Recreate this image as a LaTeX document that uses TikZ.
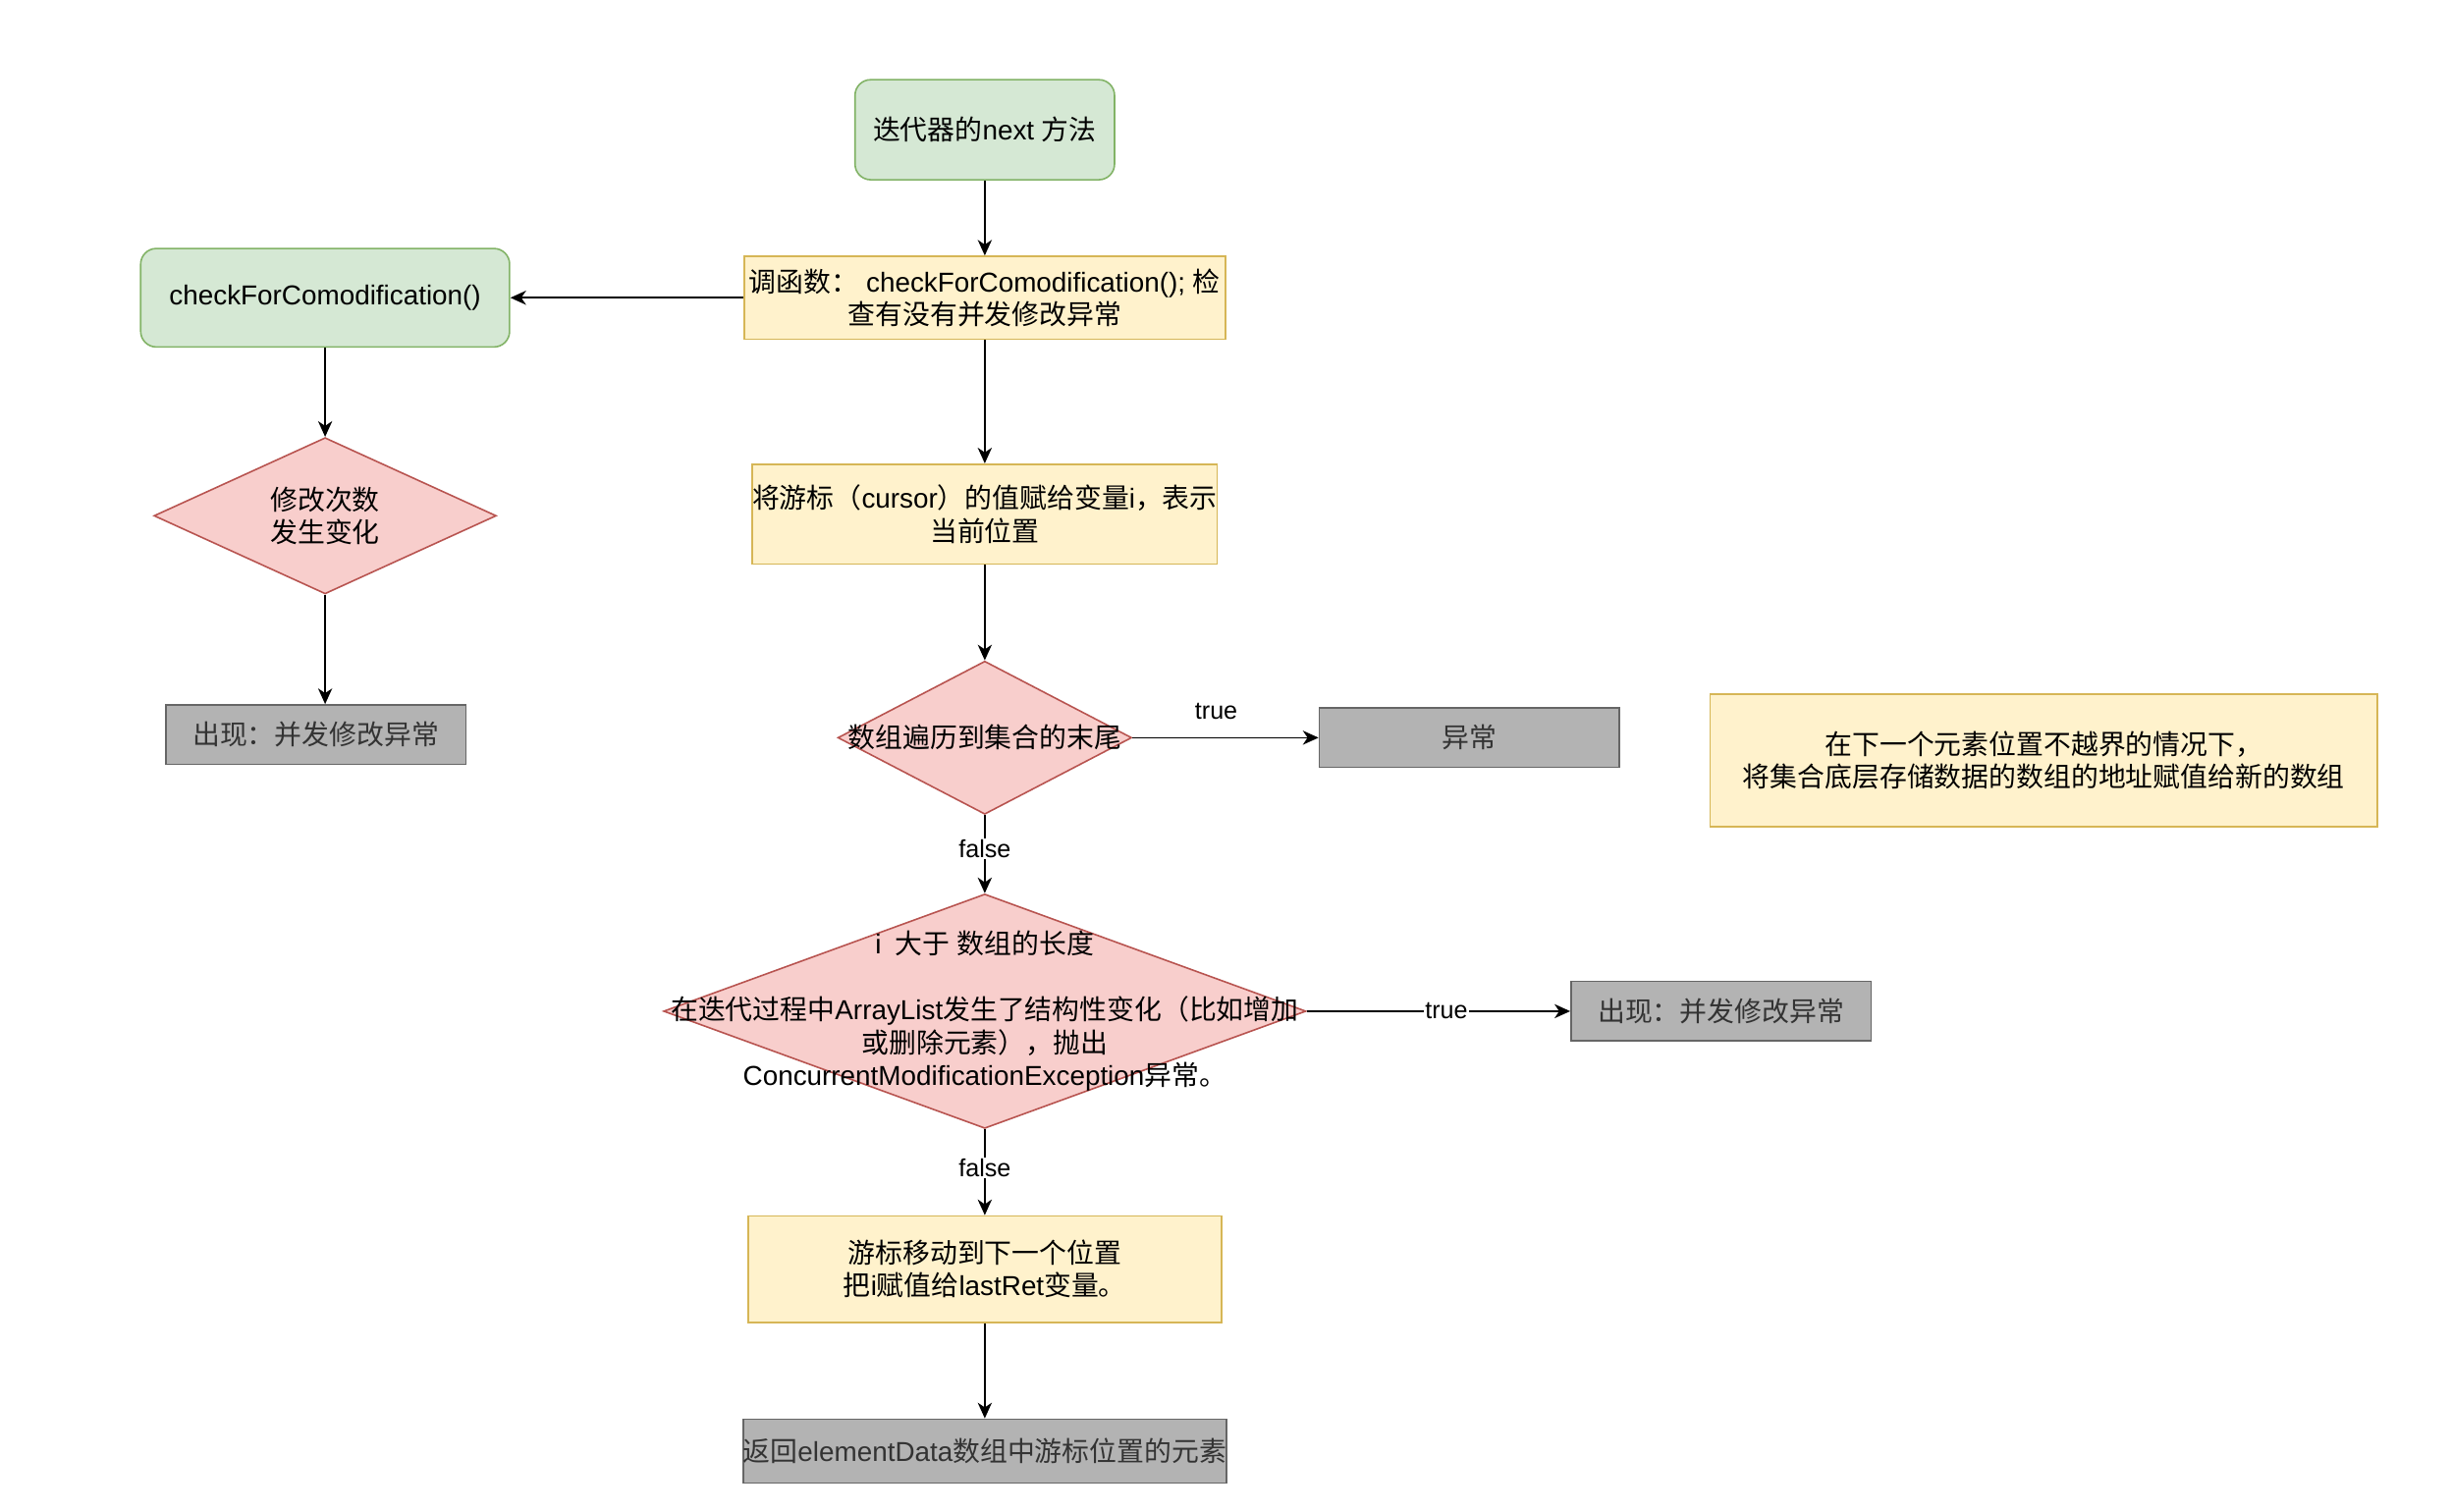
\documentclass[tikz,border=0pt]{standalone}
\usepackage{fontspec}
\setmainfont{Liberation Sans}
\newfontfamily\cjk{Noto Sans CJK SC}
\usetikzlibrary{shapes.geometric,arrows.meta}
\newcommand\zh[1]{{\cjk #1}}
\definecolor{gfill}{HTML}{D5E8D4}
\definecolor{gline}{HTML}{82B366}
\definecolor{yfill}{HTML}{FFF2CC}
\definecolor{yline}{HTML}{D6B656}
\definecolor{rfill}{HTML}{F8CECC}
\definecolor{rline}{HTML}{B85450}
\definecolor{xfill}{HTML}{B3B3B3}
\definecolor{xline}{HTML}{666666}
\definecolor{xtext}{HTML}{333333}
\begin{document}
\begin{tikzpicture}[x=1pt,y=-1pt,
  base/.style={line width=1pt, align=center, inner sep=0pt,
    font=\fontsize{17.5}{21}\selectfont},
  gbox/.style={base, draw=gline, fill=gfill, rounded corners=10pt},
  ybox/.style={base, draw=yline, fill=yfill},
  xbox/.style={base, draw=xline, fill=xfill, text=xtext},
  rdia/.style={base, diamond, draw=rline, fill=rfill},
  txt/.style={base},
  lbl/.style={inner sep=1pt, font=\fontsize{15.8}{19}\selectfont},
  arr/.style={-{Stealth[length=10pt,width=9pt,inset=3pt]}, line width=1pt}]
\fill[white] (0,0) rectangle (1568,967);
\useasboundingbox (0,0) rectangle (1568,967);

\node[gbox, minimum width=166pt, minimum height=64pt] (next) at (630,83)
  {\zh{迭代器的}next \zh{方法}};
\node[ybox, minimum width=308pt, minimum height=53pt] (check) at (630,190.5)
  {\zh{调函数：} checkForComodification(); \zh{检}\\\zh{查有没有并发修改异常}};
\node[gbox, minimum width=236pt, minimum height=63pt] (cfc) at (208,190.5)
  {checkForComodification()};
\node[rdia, minimum width=219pt, minimum height=100pt] (mod) at (208,330) {};
\node[txt] at (mod) {\zh{修改次数}\\\zh{发生变化}};
\node[xbox, minimum width=192pt, minimum height=38pt] (exl) at (202,470)
  {\zh{出现：并发修改异常}};

\node[ybox, minimum width=297pt, minimum height=64pt] (cur) at (630,329)
  {\zh{将游标（}cursor\zh{）的值赋给变量}i\zh{，表示}\\\zh{当前位置}};
\node[rdia, minimum width=188pt, minimum height=98pt] (d1) at (630,472) {};
\node[txt] at (d1) {\zh{数组遍历到集合的末尾}};
\node[xbox, minimum width=192pt, minimum height=38pt] (exc) at (940,472)
  {\zh{异常}};

\node[ybox, minimum width=427pt, minimum height=85pt] (note) at (1307.5,486.5)
  {\zh{在下一个元素位置不越界的情况下，}\\\zh{将集合底层存储数据的数组的地址赋值给新的数组}};

\node[rdia, minimum width=411pt, minimum height=150pt] (d2) at (630,647) {};
\node[txt] at (d2) {i\enspace\zh{大于} \zh{数组的长度}\\[21pt]
  \zh{在迭代过程中}ArrayList\zh{发生了结构性变化（比如增加}\\
  \zh{或删除元素），抛出}\\
  ConcurrentModificationException\zh{异常。}};
\node[xbox, minimum width=192pt, minimum height=38pt] (exr) at (1101,647)
  {\zh{出现：并发修改异常}};

\node[ybox, minimum width=303pt, minimum height=68pt] (move) at (630,812)
  {\zh{游标移动到下一个位置}\\\zh{把}i\zh{赋值给}lastRet\zh{变量。}};
\node[xbox, minimum width=309pt, minimum height=41pt] (ret) at (630,928.5)
  {\zh{返回}elementData\zh{数组中游标位置的元素}};

\draw[arr] (next) -- (check);
\draw[arr] (check) -- (cfc);
\draw[arr] (check) -- (cur);
\draw[arr] (cfc) -- (mod);
\draw[arr] (mod.south) -- (mod.south |- exl.north);
\draw[arr] (cur) -- (d1);
\draw[arr] (d1) -- node[lbl, pos=0.45, above=10pt] {true} (exc);
\draw[arr] (d1) -- node[lbl, pos=0.43, fill=white] {false} (d2);
\draw[arr] (d2) -- node[lbl, pos=0.53, fill=white] {true} (exr);
\draw[arr] (d2) -- node[lbl, pos=0.45, fill=white] {false} (move);
\draw[arr] (move) -- (ret);
\end{tikzpicture}
\end{document}
